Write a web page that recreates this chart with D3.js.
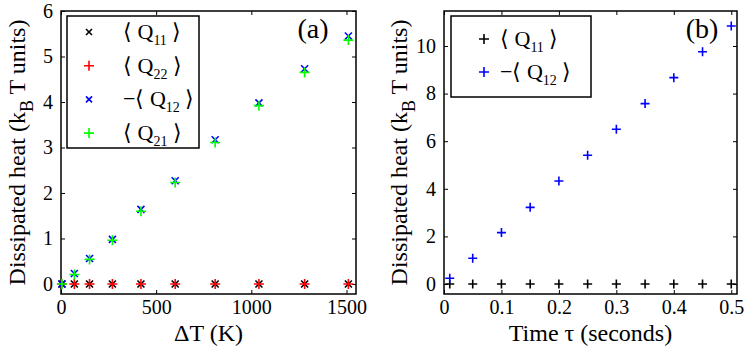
<!DOCTYPE html>
<html><head><meta charset="utf-8">
<script src="https://cdn.jsdelivr.net/npm/d3@7"></script>
</head><body style="margin:0;background:#fff"><svg id="c" width="747" height="352" style="display:block" font-family="Liberation Serif"></svg>
<script>
// Panel (a) data
const deltaT = [5, 70, 150, 270, 420, 600, 810, 1040, 1280, 1510];
const q11a = [0, 0, 0, 0, 0, 0, 0, 0, 0, 0];
const q22a = [0, 0, 0, 0, 0, 0, 0, 0, 0, 0];
const negQ12a = [0, 0.23, 0.56, 0.98, 1.64, 2.27, 3.17, 3.98, 4.73, 5.45];
const q21a = [0, 0.21, 0.54, 0.96, 1.60, 2.23, 3.11, 3.92, 4.65, 5.36];
const xTicksA = [0, 500, 1000, 1500];
const yTicksA = [0, 1, 2, 3, 4, 5, 6];
// Panel (b) data
const tau = [0.01, 0.05, 0.1, 0.15, 0.2, 0.25, 0.3, 0.35, 0.4, 0.45, 0.5];
const q11b = [0, 0, 0, 0, 0, 0, 0, 0, 0, 0, 0];
const negQ12b = [0.24, 1.08, 2.16, 3.22, 4.33, 5.41, 6.50, 7.58, 8.67, 9.76, 10.84];
const xTicksB = [0, 0.1, 0.2, 0.3, 0.4, 0.5];
const yTicksB = [0, 2, 4, 6, 8, 10];

const FONT = "Liberation Serif";
const svg = d3.select("#c");

function styl(sel) { return sel.attr("font-family", FONT); }

function markerPath(type, s) {
  if (type === "x") return `M${-s},${-s}L${s},${s}M${-s},${s}L${s},${-s}`;
  return `M${-s},0L${s},0M0,${-s}L0,${s}`;
}

function addSubText(g, parts, attrs) {
  const t = styl(g.append("text")).attr("fill", "#000");
  Object.entries(attrs).forEach(([k, v]) => t.attr(k, v));
  let prevSub = 0;
  parts.forEach(([str, sub, subSize]) => {
    const ts = styl(t.append("tspan")).text(str);
    if (sub) { ts.attr("dy", sub).attr("font-size", subSize); }
    else if (prevSub) { ts.attr("dy", -prevSub); }
    prevSub = sub || 0;
  });
  return t;
}

function panel(cfg) {
  const g = svg.append("g").attr("font-family", FONT);
  const x = d3.scaleLinear().domain(cfg.xDom).range([cfg.L, cfg.R]);
  const y = d3.scaleLinear().domain(cfg.yDom).range([cfg.B, cfg.T]);
  g.append("rect").attr("x", cfg.L).attr("y", cfg.T).attr("width", cfg.R - cfg.L).attr("height", cfg.B - cfg.T)
    .attr("fill", "none").attr("stroke", "#000").attr("stroke-width", 1.5);
  const tl = 4;
  const axB = d3.axisBottom(x).tickValues(cfg.xTicks).tickSize(-tl).tickPadding(6).tickFormat(cfg.xFmt);
  const axT = d3.axisTop(x).tickValues(cfg.xTicks).tickSize(-tl).tickFormat("");
  const axL = d3.axisLeft(y).tickValues(cfg.yTicks).tickSize(-tl).tickPadding(8).tickFormat(d3.format("d"));
  const axR = d3.axisRight(y).tickValues(cfg.yTicks).tickSize(-tl).tickFormat("");
  [[axB, `translate(0,${cfg.B})`], [axT, `translate(0,${cfg.T})`], [axL, `translate(${cfg.L},0)`], [axR, `translate(${cfg.R},0)`]]
    .forEach(([ax, tr]) => {
      const a = g.append("g").attr("transform", tr).call(ax);
      a.attr("font-family", FONT).attr("font-size", 20);
      a.select(".domain").remove();
      a.selectAll("line").attr("stroke", "#000").attr("stroke-width", 1);
      styl(a.selectAll("text")).attr("font-size", 20).attr("fill", "#000");
    });
  cfg.series.forEach(s => {
    g.append("g").selectAll("path").data(s.vals).join("path")
      .attr("transform", (d, i) => `translate(${x(s.xs[i])},${y(d)})`)
      .attr("d", markerPath(s.type, s.size))
      .attr("stroke", s.color).attr("stroke-width", 1.6).attr("fill", "none");
  });
  const lg = g.append("g");
  lg.append("rect").attr("x", cfg.leg.x).attr("y", cfg.leg.y).attr("width", cfg.leg.w).attr("height", cfg.leg.h)
    .attr("fill", "#fff").attr("stroke", "#000").attr("stroke-width", 1.5);
  cfg.series.forEach((s, i) => {
    const cy = cfg.leg.y0 + i * cfg.leg.dy;
    lg.append("path").attr("transform", `translate(${cfg.leg.mx},${cy})`)
      .attr("d", markerPath(s.type, s.legSize)).attr("stroke", s.color).attr("stroke-width", 1.6).attr("fill", "none");
    addSubText(lg, [[s.pre + "\u27E8 Q", 0], [s.sub, 6, 14], [" \u27E9", 0]],
      { x: cfg.leg.tx, y: cy + 7, "font-size": 22 });
  });
  styl(g.append("text")).attr("x", cfg.lab.x).attr("y", cfg.lab.y).attr("font-size", 28)
    .attr("text-anchor", "middle").text(cfg.lab.t);
  styl(g.append("text")).attr("x", (cfg.L + cfg.R) / 2).attr("y", 341).attr("font-size", 24)
    .attr("text-anchor", "middle").text(cfg.xTitle);
  const yt = g.append("g").attr("transform", `translate(${cfg.ytx},${(cfg.T + cfg.B) / 2}) rotate(-90)`);
  addSubText(yt, [["Dissipated heat (k", 0], ["B", 8, 18], [" T units)", 0]], { x: 0, y: 0, "font-size": 24, "text-anchor": "middle" });
}

panel({
  L: 61, R: 356, T: 11, B: 294,
  xDom: [0, 1550], yDom: [-0.22, 6],
  xTicks: xTicksA, yTicks: yTicksA, xFmt: d3.format("d"),
  series: [
    { xs: deltaT, vals: q11a, type: "x", color: "#000000", size: 3.5, legSize: 3, pre: "", sub: "11" },
    { xs: deltaT, vals: q22a, type: "+", color: "#ff0000", size: 5, legSize: 5, pre: "", sub: "22" },
    { xs: deltaT, vals: negQ12a, type: "x", color: "#0000ff", size: 3.5, legSize: 3, pre: "\u2212", sub: "12" },
    { xs: deltaT, vals: q21a, type: "+", color: "#00ff00", size: 5, legSize: 5, pre: "", sub: "21" }
  ],
  leg: { x: 67, y: 16, w: 132, h: 132, y0: 32, dy: 33.7, mx: 89, tx: 123 },
  lab: { x: 313, y: 38, t: "(a)" },
  xTitle: "\u0394T (K)",
  ytx: 25
});

panel({
  L: 444, R: 737, T: 11, B: 294,
  xDom: [0, 0.51], yDom: [-0.42, 11.47],
  xTicks: xTicksB, yTicks: yTicksB, xFmt: d => d === 0 ? "0" : d3.format(".1f")(d),
  series: [
    { xs: tau, vals: q11b, type: "+", color: "#000000", size: 4.5, legSize: 5, pre: "", sub: "11" },
    { xs: tau, vals: negQ12b, type: "+", color: "#0000ff", size: 4.5, legSize: 5, pre: "\u2212", sub: "12" }
  ],
  leg: { x: 451, y: 16, w: 140, h: 81, y0: 39, dy: 33, mx: 484, tx: 500 },
  lab: { x: 702, y: 38, t: "(b)" },
  xTitle: "Time \u03C4 (seconds)",
  ytx: 407
});
</script></body></html>
